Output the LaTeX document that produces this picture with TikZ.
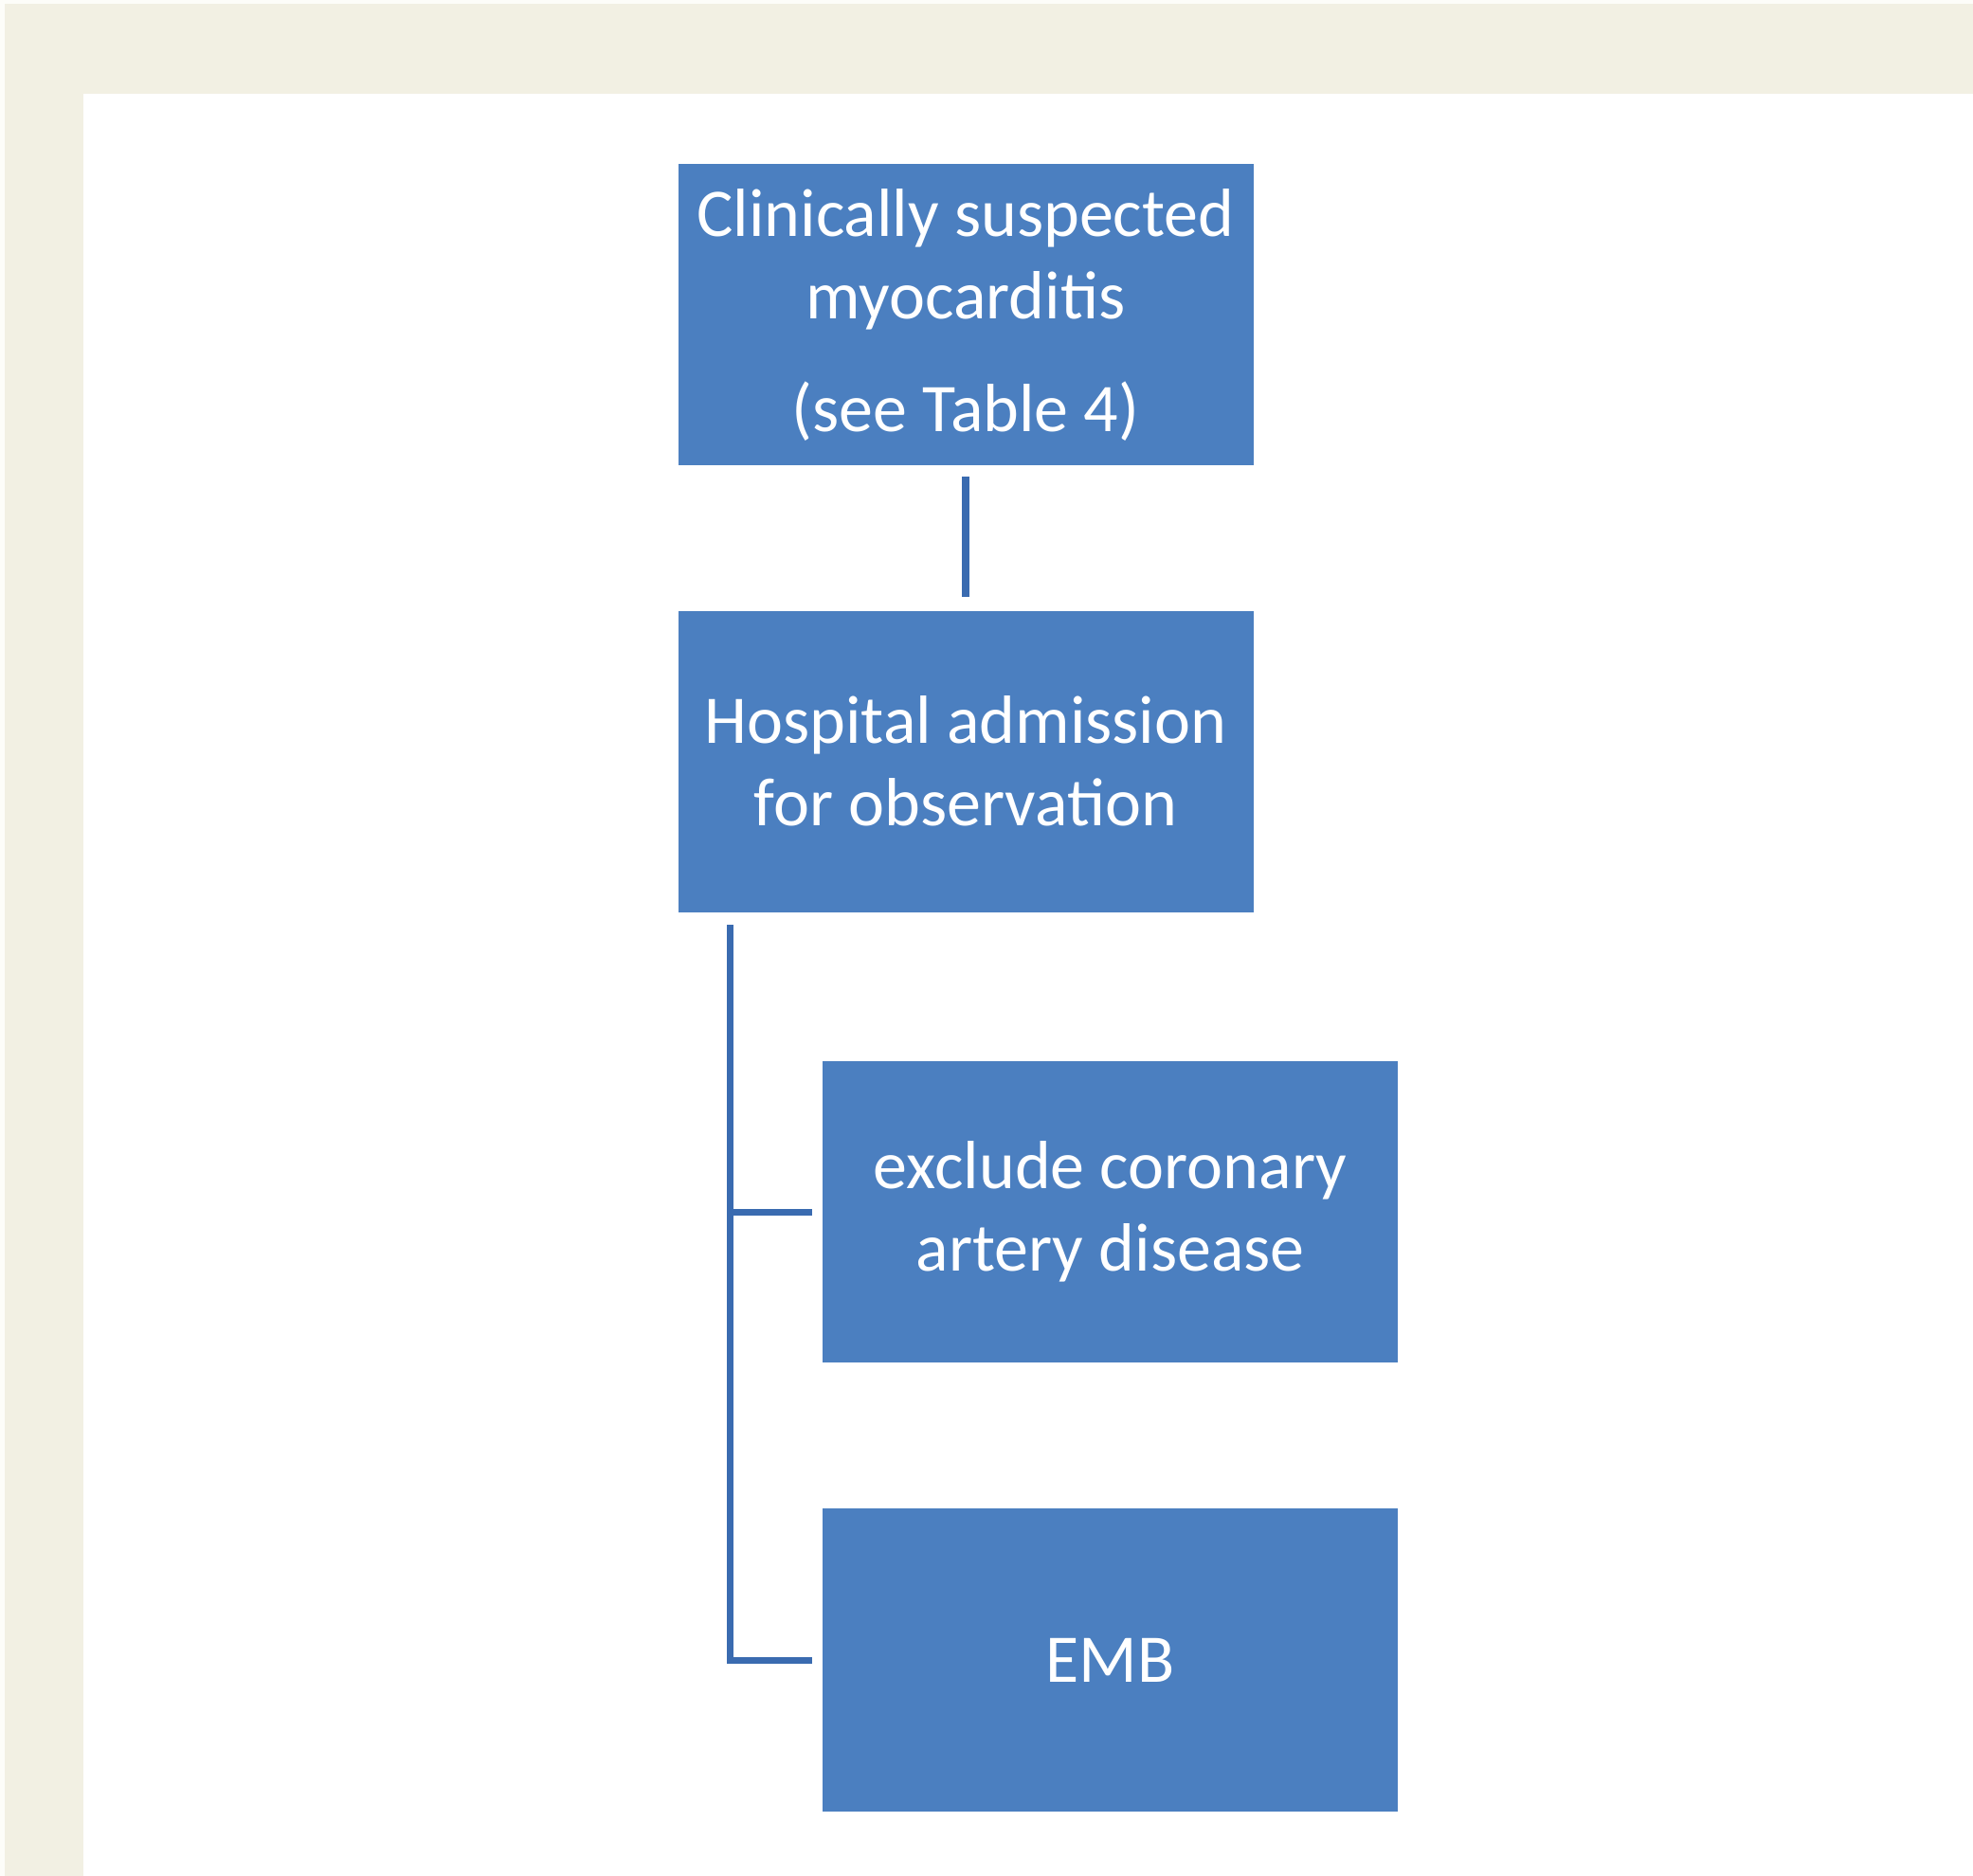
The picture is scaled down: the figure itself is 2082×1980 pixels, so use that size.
\documentclass[tikz,border=0pt]{standalone}
\usepackage{fontspec}
\setmainfont{Carlito}
\definecolor{boxblue}{HTML}{4B7FC0}
\definecolor{lineblue}{HTML}{3A6BB0}
\definecolor{beige}{HTML}{F2F0E3}
\definecolor{paper}{HTML}{FDFDF9}
\begin{document}
\begin{tikzpicture}[x=1pt,y=-1pt,
  flowbox/.style={rectangle, fill=boxblue, draw=none, inner sep=0pt,
    minimum width=607pt, minimum height=318pt, align=center, text=white,
    font=\fontsize{72}{87}\selectfont},
  conn/.style={draw=lineblue, line width=7pt}]
\useasboundingbox (0,0) rectangle (2082,1980);
\fill[paper] (0,0) rectangle (2082,1980);
\fill[beige] (5,4) rectangle (2082,1980);
\fill[white] (88,99) rectangle (2082,1980);

\node[flowbox] (b1) at (1019,332) {Clinically suspected\\myocarditis\\[32pt](see Table 4)};
\node[flowbox] (b2) at (1019,803.5) {Hospital admission\\for observation};
\node[flowbox] (b3) at (1171.5,1279) {exclude coronary\\artery disease};
\node[flowbox, minimum height=320pt] (b4) at (1171.5,1752) {EMB};

\draw[conn, line width=8pt, shorten <=12pt, shorten >=14pt] (b1.south) -- (b2.north);
\coordinate (trunk) at (770,976);
\draw[conn] (trunk) |- ([xshift=-11pt]b4.west);
\draw[conn] (trunk |- b3.west) -- ([xshift=-11pt]b3.west);
\end{tikzpicture}
\end{document}
